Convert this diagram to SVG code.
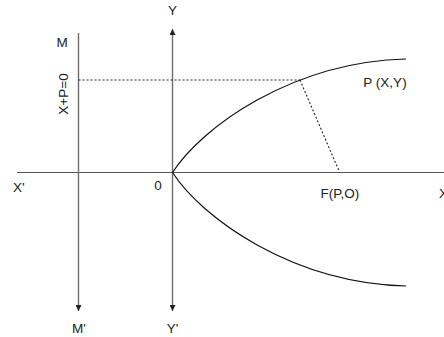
<svg xmlns="http://www.w3.org/2000/svg" width="444" height="337" viewBox="0 0 444 337">
<style>
text{font-family:"Liberation Sans",Arial,sans-serif;font-size:13.5px;fill:#222}
.ax{stroke:#555;stroke-width:1.2;fill:none}
.axg{stroke:#6e6e6e;stroke-width:1.4;fill:none}
.cv{stroke:#111;stroke-width:1.2;fill:none}
.dot{stroke:#222;stroke-width:1.1;stroke-dasharray:2 2;fill:none}
</style>
<defs>
<marker id="ah" viewBox="0 0 10 10" refX="10" refY="5" markerWidth="6" markerHeight="6" markerUnits="userSpaceOnUse" orient="auto">
<path d="M0,0 L10,5 L0,10 z" fill="#222"/>
</marker>
</defs>
<rect width="444" height="337" fill="#fff"/>
<g id="connectors">
<line class="ax" x1="17" y1="172.5" x2="444" y2="172.5"/>
<line class="axg" x1="172.5" y1="172.5" x2="172.5" y2="29" marker-end="url(#ah)"/>
<line class="axg" x1="172.5" y1="172.5" x2="172.5" y2="311" marker-end="url(#ah)"/>
<line class="axg" x1="78.5" y1="33" x2="78.5" y2="311" marker-end="url(#ah)"/>
<line class="dot" x1="78.5" y1="80" x2="300" y2="80"/>
<line class="dot" x1="300" y1="80" x2="339" y2="171"/>
</g>
<g id="parabola">
<path class="cv" d="M172.5,172.5 C202,127 292,62 406,59"/>
<path class="cv" d="M172.5,172.5 C202,218 292,283 406,286"/>
</g>
<g id="labels">
<text x="172.5" y="15" text-anchor="middle">Y</text>
<text x="172.5" y="333" text-anchor="middle">Y'</text>
<text x="62" y="47" text-anchor="middle">M</text>
<text x="79" y="333" text-anchor="middle">M'</text>
<text transform="translate(67.5,94) rotate(-90)" text-anchor="middle">X+P=0</text>
<text x="13" y="192">X'</text>
<text x="158" y="190" text-anchor="middle">0</text>
<text x="385" y="87" text-anchor="middle">P (X,Y)</text>
<text x="340" y="198" text-anchor="middle">F(P,O)</text>
<text x="439" y="198">X</text>
</g>
</svg>
